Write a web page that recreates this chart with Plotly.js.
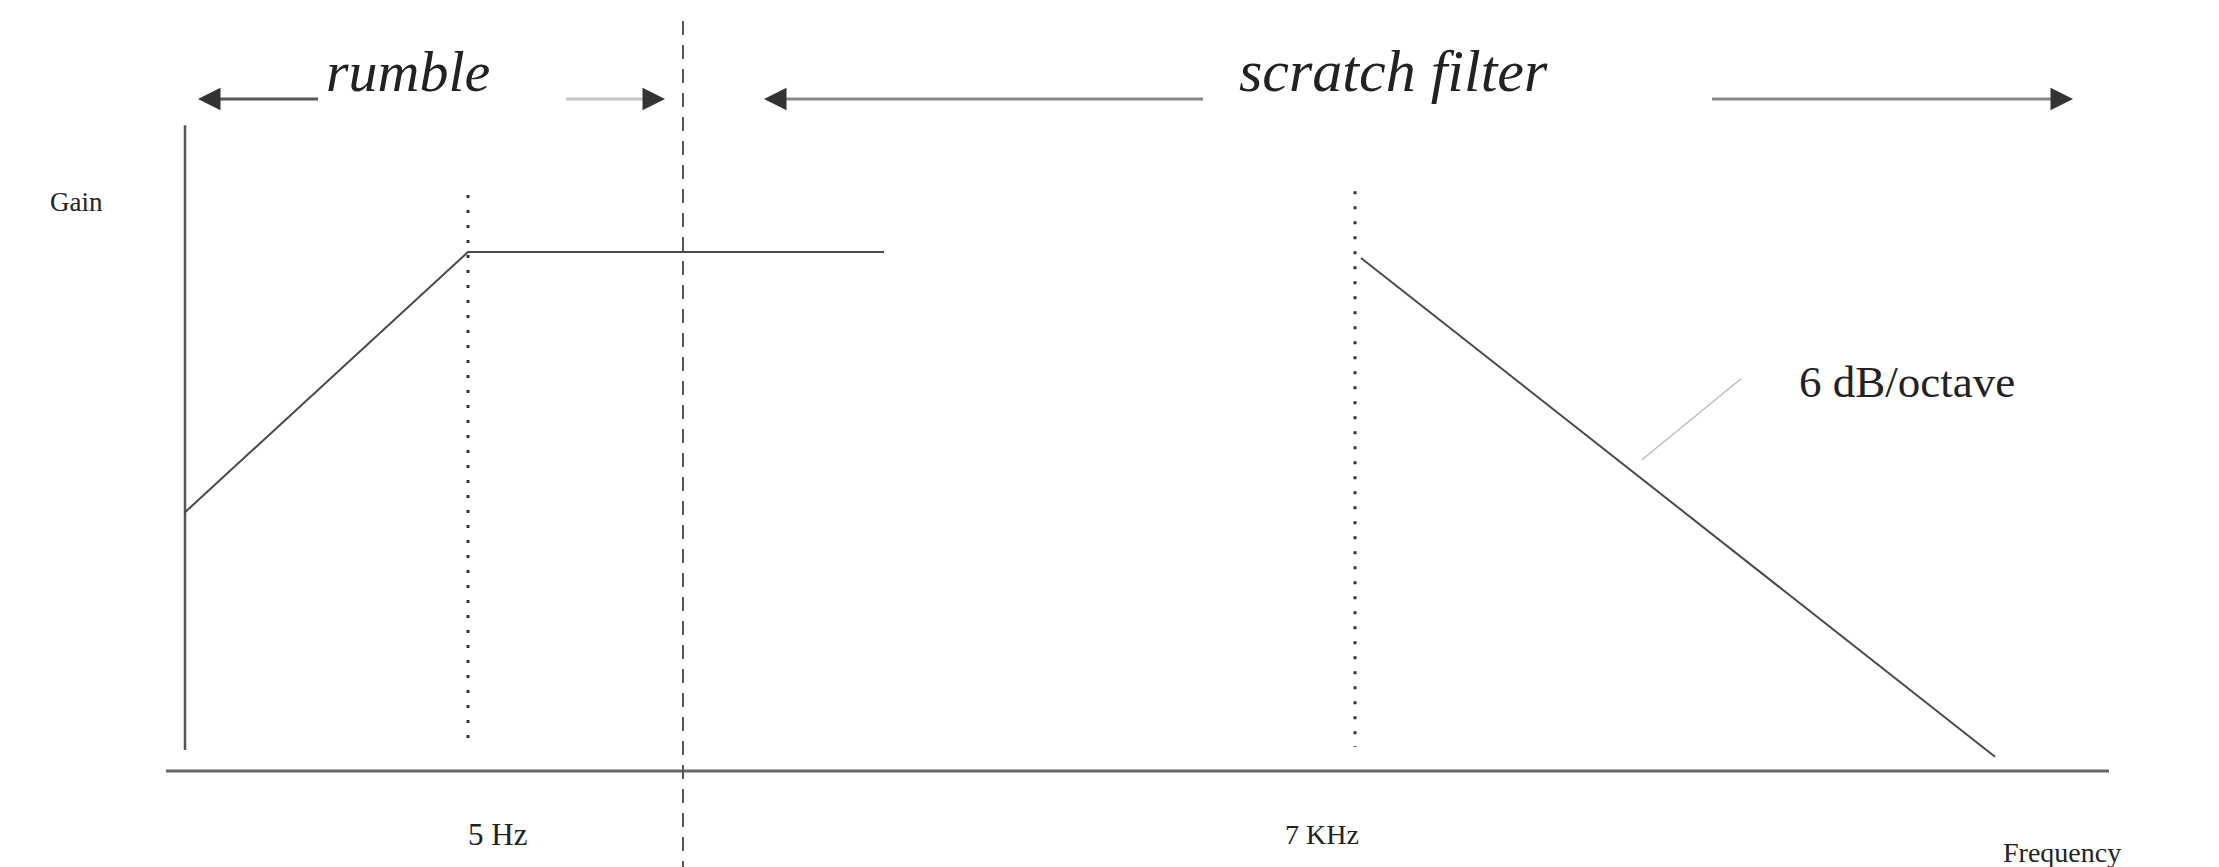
<!DOCTYPE html>
<html>
<head>
<meta charset="utf-8">
<script src="https://cdn.plot.ly/plotly-3.0.1.min.js"></script>
<style>html,body{margin:0;padding:0;background:#fff;}#chart{width:2219px;height:867px;}</style>
</head>
<body>
<div id="chart"></div>
<script>
// Schematic frequency-response of a rumble + scratch filter.
// x: position along the frequency axis (schematic units), y: gain (schematic units)

// Gain (vertical) axis
const gainAxisX = [0, 0];
const gainAxisY = [86.1, 2.8];

// Frequency (horizontal) axis
const freqAxisX = [-0.95, 96.2];
const freqAxisY = [0, 0];

// Rumble filter: rising slope then flat pass-band
const rumbleX = [0, 14.15, 34.95];
const rumbleY = [34.5, 69.2, 69.2];

// Scratch filter: 6 dB/octave roll-off above 7 kHz
const scratchX = [58.8, 90.5];
const scratchY = [68.4, 1.9];

// Corner-frequency markers (dotted)
const cornerLabels = ["5 Hz", "7 KHz"];
const cornerX = [14.15, 58.5];
const cornerTop = [76.8, 77.3];
const cornerBottom = [2.8, 3.2];

// Boundary between rumble and scratch regions (dashed)
const boundaryX = [24.9, 24.9];
const boundaryY = [100, -12.8];

// Range arrows (tail x, tip x) at the top
const rumbleArrowsTail = [6.65, 19.05];
const rumbleArrowsTip = [0.65, 24.0];
const scratchArrowsTail = [50.9, 76.35];
const scratchArrowsTip = [28.95, 94.4];
const arrowRowY = 89.6;

// Slope leader line
const leaderX = [72.85, 77.8];
const leaderY = [41.5, 52.3];

const lineColor = '#4a4a4a';
const serif = 'Liberation Serif, Times New Roman, serif';

function seg(x, y, color, width, dash) {
  return {x: x, y: y, type: 'scatter', mode: 'lines', hoverinfo: 'skip', showlegend: false,
          line: {color: color, width: width, dash: dash || 'solid'}};
}

const traces = [
  seg(gainAxisX, gainAxisY, '#555', 2.5),
  seg(freqAxisX, freqAxisY, '#666', 3),
  seg(rumbleX, rumbleY, lineColor, 2),
  seg(scratchX, scratchY, lineColor, 2),
  seg(boundaryX, boundaryY, '#555', 2, '14px,10px'),
  seg(leaderX, leaderY, '#bbb', 1.5),
];
cornerX.forEach((cx, i) => {
  traces.push(seg([cx, cx], [cornerTop[i], cornerBottom[i]], '#333', 3, '3px,12px'));
});

const annotations = [];
function arrow(tail, tip, lineCol) {
  const dir = tip > tail ? 1 : -1;
  traces.push(seg([tail, tip - dir * 0.6], [arrowRowY, arrowRowY], lineCol, 3));
  annotations.push({x: tip, y: arrowRowY, ax: tip - dir * 0.8, ay: arrowRowY, xref: 'x', yref: 'y', axref: 'x', ayref: 'y',
    text: '', showarrow: true, arrowhead: 2, arrowsize: 1.5, arrowwidth: 3, arrowcolor: '#333'});
}
arrow(rumbleArrowsTail[0], rumbleArrowsTip[0], '#555');
arrow(rumbleArrowsTail[1], rumbleArrowsTip[1], '#c4c4c4');
arrow(scratchArrowsTail[0], scratchArrowsTip[0], '#888');
arrow(scratchArrowsTail[1], scratchArrowsTip[1], '#888');

function label(text, x, y, size, xanchor) {
  annotations.push({x: x, y: y, xref: 'x', yref: 'y', text: text, showarrow: false,
    xanchor: xanchor || 'center', yanchor: 'middle',
    font: {family: serif, size: size, color: '#222'}});
}
label('<i>rumble</i>', 11.15, 93.3, 58);
label('<i>scratch filter</i>', 60.4, 93.3, 60);
label('Gain', -5.45, 75.9, 27);
label(cornerLabels[0], 15.6, -8.5, 31);
label(cornerLabels[1], 56.85, -8.5, 28);
label('Frequency', 93.85, -10.8, 28);
label('6 dB/octave', 80.6, 51.9, 45, 'left');

const layout = {
  width: 2219, height: 867,
  margin: {l: 0, r: 0, t: 0, b: 0, pad: 0},
  paper_bgcolor: '#fff', plot_bgcolor: '#fff',
  xaxis: {range: [-9.25, 101.7], visible: false, showgrid: false, zeroline: false, fixedrange: true},
  yaxis: {range: [-12.8, 102.8], visible: false, showgrid: false, zeroline: false, fixedrange: true},
  annotations: annotations,
  showlegend: false
};

Plotly.newPlot('chart', traces, layout, {displayModeBar: false, staticPlot: true});
</script>
</body>
</html>
